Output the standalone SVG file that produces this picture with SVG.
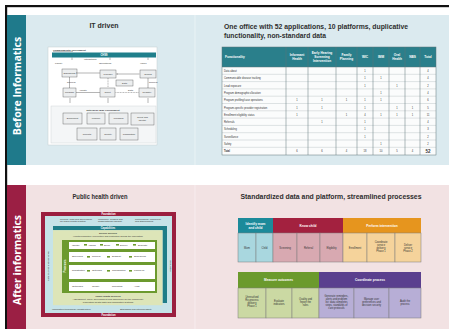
<svg xmlns="http://www.w3.org/2000/svg" width="449" height="329" viewBox="0 0 449 329">
<defs>
<style>
.ttl{font-family:"Liberation Sans",Arial,sans-serif;font-weight:bold;fill:#2e2e2e}
.side{font-family:"Open Sans","Liberation Sans",sans-serif;font-weight:bold;fill:#ffffff;font-size:10.5px}
.tiny{font-family:"Liberation Sans",Arial,sans-serif;font-size:2.4px;fill:#333}
.tinyw{font-family:"Liberation Sans",Arial,sans-serif;font-size:2.6px;fill:#fff;font-weight:bold}
.cell{font-family:"Liberation Sans",Arial,sans-serif;font-size:2.6px;fill:#333}
.hd{font-family:"Liberation Sans",Arial,sans-serif;font-size:3.2px;fill:#fff;font-weight:bold}
.bx{fill:#eceeef;stroke:#555;stroke-width:0.4}
.grid{stroke:#5d7479;stroke-width:0.5;fill:none}
.hl{stroke:#a4b2b5;stroke-width:0.35}
.cb{stroke:#7b7b7b;stroke-width:0.5}
.ln{stroke:#444;stroke-width:0.4;fill:none}
</style>
<marker id="ah" viewBox="0 0 6 6" refX="5" refY="3" markerWidth="3" markerHeight="3" orient="auto"><path d="M0,0 L6,3 L0,6 z" fill="#444"/></marker>
</defs>
<rect width="449" height="329" fill="#ffffff"/>
<!-- frame lines -->
<rect x="5" y="5" width="444" height="2.2" fill="#111"/>
<rect x="5" y="5" width="2.2" height="324" fill="#111"/>

<!-- TOP PANEL -->
<g id="before-panel">
<rect x="7" y="15" width="442" height="150" fill="#dbeaef"/>
<rect x="7" y="15" width="19" height="150" fill="#1f7a8b"/>
<text class="side" transform="translate(20.5,86) rotate(-90)" text-anchor="middle">Before Informatics</text>
<line x1="195" y1="15" x2="195" y2="165" stroke="#eef6f8" stroke-width="0.8"/>
</g>

<!-- BOTTOM PANEL -->
<g id="after-panel">
<rect x="7" y="185" width="442" height="144" fill="#f2e2e3"/>
<rect x="7" y="185" width="19" height="144" fill="#9b1f44"/>
<text class="side" transform="translate(20.5,260) rotate(-90)" text-anchor="middle">After informatics</text>
<line x1="195" y1="185" x2="195" y2="329" stroke="#f9f0f1" stroke-width="0.8"/>
</g>

<!-- IT driven -->
<g id="it-driven">
<text class="ttl" x="104" y="28" font-size="7" text-anchor="middle">IT driven</text>
<rect x="48" y="47" width="109" height="98" fill="#ffffff" stroke="#c4cdd0" stroke-width="0.5"/>
<text class="tiny" x="53" y="51" font-weight="bold">Commonwealth environment</text>
<line x1="53" y1="51.5" x2="73" y2="51.5" stroke="#333" stroke-width="0.3"/>
<rect x="52" y="52.5" width="104" height="5" fill="#1f7f8b"/>
<text class="tinyw" x="104" y="56" text-anchor="middle">CHSS</text>
<text class="tiny" x="55" y="64">Facility</text>
<text class="tiny" x="99" y="64">Operational</text>
<text class="tiny" x="140" y="64">Vision</text>
<text class="tiny" x="84" y="60">Interactions</text>
<g id="it-box-1"><rect class="bx" x="62" y="69" width="15" height="8"/><text class="tiny" x="69.5" y="73.5" text-anchor="middle">Scheduling</text></g>
<g id="it-box-2"><rect class="bx" x="100" y="70" width="16" height="8"/><text class="tiny" x="108" y="74.5" text-anchor="middle">Provider</text></g>
<g id="it-box-3"><rect class="bx" x="140" y="70" width="16" height="8"/><text class="tiny" x="148" y="74.5" text-anchor="middle">Clinical</text></g>
<g id="it-box-4"><rect class="bx" x="63" y="88" width="13" height="9"/><text class="tiny" x="69.5" y="93" text-anchor="middle">Program</text></g>
<g id="it-box-5"><rect class="bx" x="100" y="88" width="15" height="9"/><text class="tiny" x="107.5" y="93" text-anchor="middle">Client</text></g>
<g id="it-box-6"><rect class="bx" x="139" y="88" width="16" height="9"/><text class="tiny" x="147" y="93" text-anchor="middle">Registry</text></g>
<g id="it-box-7"><rect class="bx" x="116" y="80" width="17" height="6"/><text class="tiny" x="124.5" y="83.8" text-anchor="middle">Data</text></g>
<text class="tiny" x="79" y="91">Affiliate</text>
<text class="tiny" x="67" y="83">Referral</text>
<text class="tiny" x="149" y="83">Referral</text>
<text class="tiny" x="128" y="91">Data</text>
<rect x="51" y="106" width="105" height="37" fill="#f4f6f7" stroke="#c9cfd1" stroke-width="0.4"/>
<text class="tiny" x="103" y="110.5" text-anchor="middle" font-weight="bold">Enterprise-wide environment</text>
<g id="it-box-8"><rect class="bx" x="63" y="113" width="19" height="11"/><text class="tiny" x="72.5" y="119" text-anchor="middle">Enrollment</text></g>
<g id="it-box-9"><rect class="bx" x="87" y="113" width="18" height="11"/><text class="tiny" x="96" y="119" text-anchor="middle">Finance</text></g>
<g id="it-box-10"><rect class="bx" x="109" y="113" width="19" height="11"/><text class="tiny" x="118.5" y="119" text-anchor="middle">Workflow</text></g>
<g id="it-box-11"><rect class="bx" x="131" y="113" width="23" height="12"/><text class="tiny" x="142.5" y="118" text-anchor="middle">Client and</text><text class="tiny" x="142.5" y="121" text-anchor="middle">identity</text></g>
<g id="it-box-12"><rect class="bx" x="77" y="128" width="20" height="12"/><text class="tiny" x="87" y="134.5" text-anchor="middle">Reports</text></g>
<g id="it-box-13"><rect class="bx" x="100" y="128" width="16" height="12"/><text class="tiny" x="108" y="134.5" text-anchor="middle">Identity</text></g>
<g id="it-box-14"><rect class="bx" x="120" y="128" width="18" height="12"/><text class="tiny" x="129" y="134.5" text-anchor="middle">Transaction</text></g>
</g>

<g id="connectors">
<line class="ln" x1="72" y1="57.5" x2="72" y2="60"/>
<line class="ln" x1="110" y1="57.5" x2="110" y2="60"/>
<line class="ln" x1="148" y1="57.5" x2="148" y2="60"/>
<line class="ln" x1="77" y1="73" x2="99.5" y2="73" marker-start="url(#ah)" marker-end="url(#ah)"/>
<line class="ln" x1="139.5" y1="74" x2="116.5" y2="74" marker-end="url(#ah)"/>
<line class="ln" x1="69.5" y1="77" x2="69.5" y2="87.5" marker-end="url(#ah)"/>
<line class="ln" x1="148" y1="78" x2="148" y2="87.5" marker-end="url(#ah)"/>
<line class="ln" x1="108" y1="78" x2="108" y2="87.5" stroke-dasharray="1,0.6"/>
<line class="ln" x1="76" y1="92.5" x2="99.5" y2="92.5" marker-end="url(#ah)"/>
<line class="ln" x1="138.5" y1="92.5" x2="115.5" y2="92.5" stroke-dasharray="1,0.6"/>
<line class="ln" x1="70" y1="98" x2="70" y2="103"/>
<line class="ln" x1="108" y1="98" x2="108" y2="103"/>
<line class="ln" x1="148" y1="98" x2="148" y2="103"/>
</g>

<!-- Table -->
<g id="apps-table">
<text class="ttl" x="224" y="29" font-size="6.8" textLength="184" lengthAdjust="spacingAndGlyphs">One office with 52 applications, 10 platforms, duplicative</text>
<text class="ttl" x="224" y="37.5" font-size="6.8" textLength="102" lengthAdjust="spacingAndGlyphs">functionality, non-standard data</text>
<rect x="222" y="47" width="214" height="108" fill="#fbfcfc"/>
<rect x="222" y="47" width="214" height="20" fill="#2a7f8b"/>
<g class="hl">
<line x1="222" y1="74.3" x2="436" y2="74.3"/><line x1="222" y1="81.6" x2="436" y2="81.6"/><line x1="222" y1="88.9" x2="436" y2="88.9"/><line x1="222" y1="96.2" x2="436" y2="96.2"/><line x1="222" y1="103.5" x2="436" y2="103.5"/><line x1="222" y1="110.8" x2="436" y2="110.8"/><line x1="222" y1="118.1" x2="436" y2="118.1"/><line x1="222" y1="125.4" x2="436" y2="125.4"/><line x1="222" y1="132.7" x2="436" y2="132.7"/><line x1="222" y1="140" x2="436" y2="140"/><line x1="222" y1="147.3" x2="436" y2="147.3"/>
</g>
<g class="grid">
<rect x="222" y="47" width="214" height="108"/>
<line x1="286" y1="47" x2="286" y2="155"/><line x1="308" y1="47" x2="308" y2="155"/><line x1="336" y1="47" x2="336" y2="155"/><line x1="357" y1="47" x2="357" y2="155"/><line x1="373" y1="47" x2="373" y2="155"/><line x1="389" y1="47" x2="389" y2="155"/><line x1="405" y1="47" x2="405" y2="155"/><line x1="420" y1="47" x2="420" y2="155"/>
<line x1="222" y1="67" x2="436" y2="67"/>
</g>
<text class="hd" x="225" y="58">Functionality</text>
<text class="hd" x="297" y="56" text-anchor="middle">Informant</text><text class="hd" x="297" y="60" text-anchor="middle">Health</text>
<text class="hd" x="322" y="54" text-anchor="middle">Early Hearing</text><text class="hd" x="322" y="58" text-anchor="middle">Screening</text><text class="hd" x="322" y="62" text-anchor="middle">Intervention</text>
<text class="hd" x="346.5" y="56" text-anchor="middle">Family</text><text class="hd" x="346.5" y="60" text-anchor="middle">Planning</text>
<text class="hd" x="365" y="58" text-anchor="middle">WIC</text>
<text class="hd" x="381" y="58" text-anchor="middle">IMM</text>
<text class="hd" x="397" y="56" text-anchor="middle">Oral</text><text class="hd" x="397" y="60" text-anchor="middle">Health</text>
<text class="hd" x="412.5" y="58" text-anchor="middle">NBS</text>
<text class="hd" x="428" y="58" text-anchor="middle">Total</text>
<g class="cell">
<text x="224" y="72">Data about</text>
<text x="224" y="79.3">Communicable disease tracking</text>
<text x="224" y="86.6">Lead exposure</text>
<text x="224" y="93.9">Program demographics/location</text>
<text x="224" y="101.2">Program profiling/case operations</text>
<text x="224" y="108.5">Program-specific provider registration</text>
<text x="224" y="115.8">Enrollment eligibility status</text>
<text x="224" y="123.1">Referrals</text>
<text x="224" y="130.4">Scheduling</text>
<text x="224" y="137.7">Surveillance</text>
<text x="224" y="145">Safety</text>
<text x="224" y="152.3" font-weight="bold">Total</text>
</g>
<g class="cell" text-anchor="middle">
<text x="365" y="72">1</text><text x="428" y="72">4</text>
<text x="365" y="79.3">1</text><text x="381" y="79.3">1</text><text x="428" y="79.3">4</text>
<text x="365" y="86.6">1</text><text x="397" y="86.6">1</text><text x="428" y="86.6">2</text>
<text x="381" y="93.9">1</text><text x="428" y="93.9">4</text>
<text x="297" y="101.2">1</text><text x="322" y="101.2">1</text><text x="346.5" y="101.2">1</text><text x="365" y="101.2">1</text><text x="381" y="101.2">1</text><text x="428" y="101.2">6</text>
<text x="297" y="108.5">1</text><text x="322" y="108.5">1</text><text x="365" y="108.5">1</text><text x="397" y="108.5">1</text><text x="412.5" y="108.5">1</text><text x="428" y="108.5">5</text>
<text x="297" y="115.8">1</text><text x="346.5" y="115.8">1</text><text x="365" y="115.8">4</text><text x="381" y="115.8">1</text><text x="397" y="115.8">1</text><text x="412.5" y="115.8">1</text><text x="428" y="115.8">11</text>
<text x="322" y="123.1">1</text><text x="365" y="123.1">1</text><text x="428" y="123.1">4</text>
<text x="365" y="130.4">1</text><text x="428" y="130.4">3</text>
<text x="365" y="137.7">1</text><text x="428" y="137.7">2</text>
<text x="381" y="145">1</text><text x="428" y="145">2</text>
<text x="297" y="152.3">6</text><text x="322" y="152.3">6</text><text x="346.5" y="152.3">4</text><text x="365" y="152.3">18</text><text x="381" y="152.3">10</text><text x="397" y="152.3">5</text><text x="412.5" y="152.3">4</text><text x="428" y="152.8" font-size="4.5" font-weight="bold">52</text>
</g>
</g>

<!-- Public health driven -->
<g id="ph-driven">
<text class="ttl" x="100" y="199" font-size="6.8" text-anchor="middle" textLength="55" lengthAdjust="spacingAndGlyphs">Public health driven</text>
<rect x="41" y="212" width="135" height="105" fill="#9b1f3f"/>
<rect x="45" y="216" width="127" height="97" fill="#c6e3e8"/>
<text class="tinyw" x="108.5" y="215" text-anchor="middle" font-size="2">Foundation</text>
<text class="tinyw" x="108.5" y="316" text-anchor="middle" font-size="2">Foundation</text>
<text class="tiny" x="60" y="219.5" font-size="1.8">Policies, laws and governance</text>
<text class="tiny" x="60" y="221.8" font-size="1.8">for public health practice</text>
<text class="tiny" x="98" y="219.5" font-size="1.8">Workforce, funding and</text>
<text class="tiny" x="98" y="221.8" font-size="1.8">organizational capacity</text>
<text class="tiny" x="135" y="219.5" font-size="1.8">Partnerships, community</text>
<text class="tiny" x="135" y="221.8" font-size="1.8">and stakeholders</text>
<rect x="53" y="226" width="114" height="4.2" fill="#1e7d88"/>
<rect x="162.5" y="226" width="4.5" height="77" fill="#1e7d88"/>
<text class="tinyw" x="108" y="229" text-anchor="middle" font-size="2">Capabilities</text>
<rect x="53" y="230.2" width="109.5" height="75" fill="#dde5b8"/>
<text class="tiny" x="108" y="234" text-anchor="middle" font-size="1.9" font-weight="bold">Service delivery</text>
<text class="tiny" x="108" y="237" text-anchor="middle" font-size="1.7">Health promotion, prevention and protection across the population</text>
<rect x="62" y="240" width="95" height="53" fill="#6c9a2e"/>
<g fill="#ffffff">
<rect x="69" y="242" width="86" height="7"/>
<rect x="69" y="252" width="86" height="10"/>
<rect x="69" y="265" width="86" height="14"/>
<rect x="69" y="282" width="86" height="9"/>
</g>
<text class="tinyw" transform="translate(66,266) rotate(-90)" text-anchor="middle" font-size="2">Processes</text>
<g class="tiny" font-size="1.8">
<text x="72" y="246">Identify</text><text x="88" y="246">Assess</text><text x="104" y="246">Enroll</text><text x="120" y="246">Deliver</text><text x="138" y="246">Evaluate</text>
<text x="72" y="257">Screening</text><text x="92" y="257">Referral</text><text x="112" y="257">Eligibility</text><text x="134" y="257">Scheduling</text>
<text x="72" y="271">Registration</text><text x="92" y="271">Outreach</text><text x="112" y="271">Coordination</text><text x="134" y="271">Follow-up</text>
<text x="72" y="287">Outcomes</text><text x="92" y="287">Quality</text><text x="112" y="287">Reporting</text><text x="134" y="287">Audit</text>
</g>
<g fill="#6c9a2e">
<rect x="84" y="244" width="3" height="1.6"/><rect x="100" y="244" width="3" height="1.6"/><rect x="116" y="244" width="3" height="1.6"/><rect x="133" y="244" width="3" height="1.6"/>
<rect x="87" y="256" width="3" height="1.6"/><rect x="107" y="256" width="3" height="1.6"/><rect x="129" y="256" width="3" height="1.6"/>
<rect x="87" y="270" width="3" height="1.6"/><rect x="107" y="270" width="3" height="1.6"/><rect x="129" y="270" width="3" height="1.6"/>
</g>
<text class="tiny" x="108" y="297" text-anchor="middle" font-size="1.9" font-weight="bold">Public health services</text>
<text class="tiny" x="108" y="300" text-anchor="middle" font-size="1.7">Assessment, policy development and assurance for the community</text>
<text class="tiny" x="108" y="302.5" text-anchor="middle" font-size="1.7">Population health data and information systems</text>
<text class="tiny" x="52" y="309.5" font-size="1.8">Information technology infrastructure</text>
<text class="tiny" x="120" y="309.5" font-size="1.8">Standards and interoperability</text>
<text class="tiny" transform="translate(49,266) rotate(-90)" text-anchor="middle" font-size="1.8">Data sources and exchange</text>
<text class="tiny" transform="translate(170,266) rotate(90)" text-anchor="middle" font-size="1.8">Evaluation</text>
</g>

<!-- Standardized data -->
<g id="std-title">
<text class="ttl" x="331" y="199" font-size="6.8" text-anchor="middle" textLength="181" lengthAdjust="spacingAndGlyphs">Standardized data and platform, streamlined processes</text>
</g>
<g id="process-top">
<rect x="238" y="218" width="35" height="15" fill="#1c8a9a"/>
<rect x="273" y="218" width="70" height="15" fill="#a3213f"/>
<rect x="343" y="218" width="78" height="15" fill="#e6951e"/>
<g class="cb">
<rect x="238" y="233" width="18" height="29" fill="#a9d7df"/>
<rect x="256" y="233" width="17" height="29" fill="#a9d7df"/>
<rect x="273" y="233" width="24" height="29" fill="#d8a9b1"/>
<rect x="297" y="233" width="23" height="29" fill="#d8a9b1"/>
<rect x="320" y="233" width="23" height="29" fill="#d8a9b1"/>
<rect x="343" y="233" width="24" height="29" fill="#f5d39b"/>
<rect x="367" y="233" width="28" height="29" fill="#f5d39b"/>
<rect x="395" y="233" width="26" height="29" fill="#f5d39b"/>
</g>
<text class="hd" x="255.5" y="224.5" text-anchor="middle">Identify mom</text>
<text class="hd" x="255.5" y="228.5" text-anchor="middle">and child</text>
<text class="hd" x="308" y="226.8" text-anchor="middle">Know child</text>
<text class="hd" x="382" y="226.8" text-anchor="middle">Perform intervention</text>
<g class="cell" text-anchor="middle">
<text x="247" y="248.5">Mom</text>
<text x="264.5" y="248.5">Child</text>
<text x="285" y="248.5">Screening</text>
<text x="308.5" y="248.5">Referral</text>
<text x="331.5" y="248.5">Eligibility</text>
<text x="355" y="248.5">Enrollment</text>
<text x="381" y="242.5">Coordinate</text><text x="381" y="245.5">service</text><text x="381" y="248.5">delivery</text><text x="381" y="251.5">Phase 1</text>
<text x="408" y="245.5">Deliver</text><text x="408" y="248.5">service</text><text x="408" y="251.5">Phase 2</text>
</g>
</g>
<g id="process-bottom">
<rect x="238" y="272" width="81" height="16" fill="#6b9a2c"/>
<rect x="319" y="272" width="102" height="16" fill="#5a3f8e"/>
<g class="cb">
<rect x="238" y="288" width="28" height="30" fill="#cbd9a3"/>
<rect x="266" y="288" width="26" height="30" fill="#cbd9a3"/>
<rect x="292" y="288" width="27" height="30" fill="#cbd9a3"/>
<rect x="319" y="288" width="35" height="30" fill="#b7aed6"/>
<rect x="354" y="288" width="35" height="30" fill="#b7aed6"/>
<rect x="389" y="288" width="32" height="30" fill="#b7aed6"/>
</g>
<text class="hd" x="278.5" y="281.2" text-anchor="middle">Measure outcomes</text>
<text class="hd" x="370" y="281.2" text-anchor="middle">Coordinate process</text>
<g class="cell" text-anchor="middle">
<text x="252" y="298">Unresolved</text><text x="252" y="301">Re-process</text><text x="252" y="304">delivery</text><text x="252" y="307">Phase 1</text>
<text x="279" y="301.5">Evaluate</text><text x="279" y="304.5">indicators</text>
<text x="305.5" y="300">Quality and</text><text x="305.5" y="303">report the</text><text x="305.5" y="306">rules</text>
<text x="336.5" y="296.5">Generate reminders,</text><text x="336.5" y="299.5">alerts and problem</text><text x="336.5" y="302.5">list; data completes</text><text x="336.5" y="305.5">steps, standards of</text><text x="336.5" y="308.5">care protocols</text>
<text x="371.5" y="300">Manage user</text><text x="371.5" y="303">preferences and</text><text x="371.5" y="306">decision security</text>
<text x="405" y="301.5">Audit the</text><text x="405" y="304.5">process</text>
</g>
</g>
</svg>
